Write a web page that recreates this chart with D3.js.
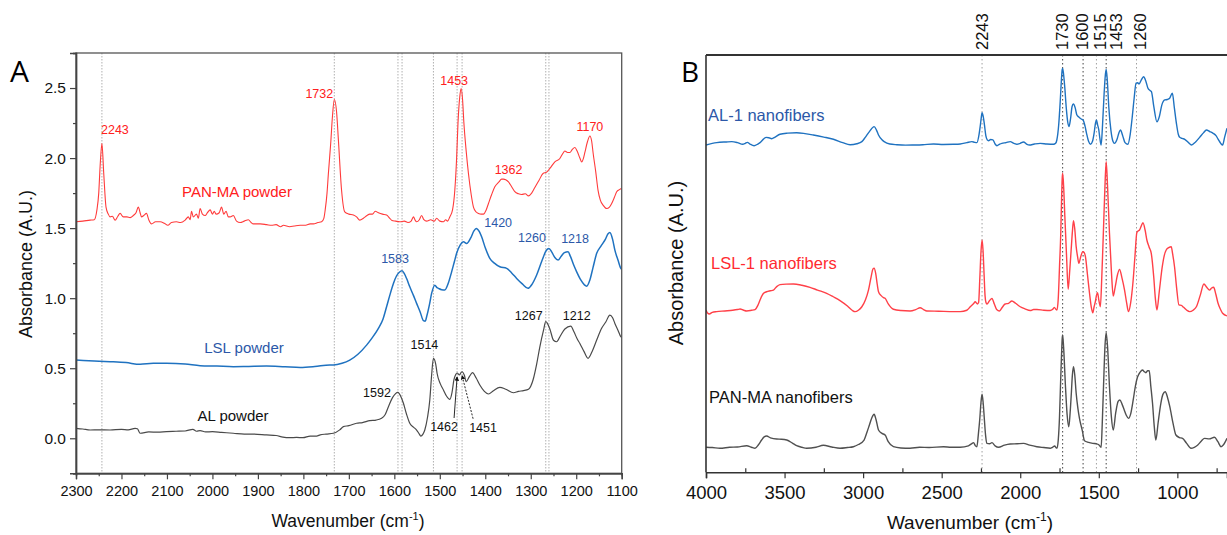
<!DOCTYPE html>
<html>
<head>
<meta charset="utf-8">
<script src="https://cdn.jsdelivr.net/npm/d3@7"></script>
<style>
  html, body { margin: 0; padding: 0; background: #fff; }
  svg { display: block; font-family: "Liberation Sans", Arial, sans-serif; }
</style>
</head>
<body>
<svg id="chart" width="1227" height="535"></svg>
<script>
// ---------- Panel A: powders, 2300–1100 cm-1 ([wavenumber, absorbance]) ----------
const panMaPowder = [[2300,1.545],[2285,1.55],[2269,1.557],[2260,1.56],[2254,1.63],[2250,1.75],[2247,1.94],[2243,2.104],[2239,1.89],[2234,1.65],[2229,1.6],[2225,1.58],[2220,1.585],[2214,1.557],[2208,1.585],[2203,1.605],[2196,1.58],[2188,1.58],[2181,1.575],[2174,1.59],[2168,1.61],[2163,1.65],[2159,1.61],[2156,1.58],[2151,1.59],[2145,1.605],[2140,1.56],[2134,1.53],[2125,1.545],[2115,1.545],[2106,1.535],[2098,1.52],[2090,1.54],[2079,1.545],[2070,1.54],[2060,1.557],[2053,1.58],[2049,1.56],[2046,1.62],[2042,1.58],[2035,1.6],[2031,1.57],[2027,1.64],[2022,1.6],[2016,1.59],[2011,1.61],[2005,1.63],[2000,1.6],[1996,1.62],[1992,1.6],[1985,1.61],[1980,1.65],[1975,1.6],[1970,1.62],[1965,1.58],[1961,1.58],[1954,1.59],[1947,1.55],[1939,1.54],[1930,1.55],[1921,1.56],[1915,1.54],[1910,1.53],[1895,1.53],[1881,1.525],[1870,1.52],[1860,1.525],[1850,1.51],[1844,1.52],[1830,1.51],[1820,1.515],[1807,1.52],[1795,1.52],[1785,1.53],[1778,1.53],[1768,1.54],[1760,1.545],[1755,1.57],[1752,1.63],[1748,1.75],[1745,1.89],[1740,2.1],[1736,2.3],[1732,2.418],[1727,2.33],[1723,2.13],[1716,1.77],[1709,1.616],[1700,1.6],[1690,1.593],[1683,1.58],[1676,1.557],[1668,1.57],[1660,1.59],[1654,1.6],[1648,1.6],[1642,1.62],[1635,1.61],[1626,1.6],[1617,1.593],[1610,1.57],[1606,1.557],[1597,1.55],[1588,1.545],[1578,1.55],[1570,1.54],[1563,1.55],[1558,1.58],[1554,1.555],[1551,1.545],[1545,1.56],[1540,1.59],[1535,1.56],[1529,1.55],[1520,1.56],[1512,1.55],[1507,1.57],[1500,1.55],[1492,1.545],[1487,1.56],[1483,1.55],[1478,1.58],[1472,1.63],[1467,1.77],[1463,2.0],[1460,2.25],[1456,2.44],[1453,2.496],[1450,2.42],[1447,2.25],[1442,2.05],[1437,1.89],[1431,1.74],[1426,1.65],[1420,1.615],[1415,1.605],[1409,1.6],[1404,1.6],[1398,1.63],[1393,1.676],[1386,1.74],[1379,1.795],[1370,1.83],[1364,1.85],[1360,1.85],[1355,1.845],[1349,1.83],[1342,1.795],[1335,1.76],[1327,1.745],[1320,1.74],[1312,1.745],[1305,1.73],[1298,1.75],[1291,1.79],[1282,1.84],[1273,1.89],[1265,1.9],[1258,1.926],[1247,1.973],[1236,1.997],[1230,2.03],[1225,2.05],[1219,2.04],[1214,2.04],[1209,2.06],[1203,2.075],[1198,2.05],[1192,2.0],[1188,1.973],[1184,2.0],[1181,2.04],[1175,2.12],[1170,2.158],[1166,2.12],[1163,2.04],[1157,1.9],[1152,1.77],[1147,1.7],[1141,1.664],[1133,1.64],[1127,1.65],[1122,1.676],[1116,1.72],[1111,1.76],[1105,1.775],[1100,1.783]];

const lslPowder = [[2300,0.558],[2260,0.552],[2225,0.547],[2190,0.54],[2159,0.528],[2130,0.535],[2101,0.535],[2060,0.53],[2027,0.518],[1990,0.515],[1954,0.511],[1920,0.513],[1881,0.515],[1840,0.51],[1807,0.506],[1775,0.512],[1742,0.523],[1734,0.523],[1715,0.535],[1698,0.558],[1680,0.6],[1661,0.665],[1648,0.72],[1635,0.785],[1625,0.85],[1617,0.939],[1610,1.02],[1602,1.105],[1595,1.16],[1589,1.185],[1583,1.195],[1578,1.175],[1573,1.14],[1566,1.081],[1558,1.02],[1551,0.963],[1543,0.9],[1536,0.839],[1532,0.835],[1529,0.867],[1523,0.95],[1518,1.034],[1511,1.093],[1506,1.075],[1503,1.07],[1496,1.06],[1489,1.058],[1481,1.11],[1474,1.188],[1468,1.26],[1463,1.32],[1455,1.38],[1448,1.402],[1441,1.39],[1432,1.43],[1425,1.48],[1420,1.498],[1413,1.475],[1408,1.438],[1400,1.36],[1390,1.284],[1380,1.25],[1368,1.224],[1353,1.213],[1342,1.18],[1331,1.141],[1318,1.1],[1306,1.07],[1297,1.1],[1287,1.165],[1275,1.27],[1266,1.34],[1260,1.355],[1254,1.33],[1247,1.29],[1240,1.272],[1233,1.3],[1226,1.325],[1218,1.331],[1213,1.3],[1206,1.24],[1199,1.188],[1190,1.13],[1182,1.095],[1177,1.086],[1170,1.13],[1163,1.22],[1155,1.32],[1146,1.37],[1136,1.42],[1130,1.46],[1126,1.469],[1120,1.42],[1115,1.343],[1108,1.27],[1102,1.213],[1100,1.205]];

const alPowder = [[2300,0.071],[2285,0.066],[2269,0.059],[2250,0.06],[2225,0.059],[2200,0.064],[2185,0.06],[2170,0.071],[2165,0.068],[2159,0.036],[2140,0.045],[2120,0.044],[2101,0.048],[2080,0.05],[2060,0.052],[2043,0.064],[2035,0.05],[2027,0.055],[2015,0.045],[2000,0.047],[1980,0.042],[1954,0.036],[1930,0.03],[1910,0.03],[1881,0.024],[1860,0.02],[1845,0.008],[1830,0.004],[1815,0.006],[1801,0.004],[1785,0.016],[1771,0.016],[1763,0.024],[1750,0.03],[1734,0.036],[1720,0.06],[1712,0.083],[1700,0.09],[1683,0.107],[1670,0.112],[1654,0.126],[1640,0.13],[1628,0.143],[1620,0.17],[1613,0.225],[1604,0.29],[1592,0.328],[1586,0.3],[1580,0.25],[1573,0.17],[1566,0.107],[1558,0.08],[1551,0.059],[1545,0.03],[1542,0.016],[1537,0.03],[1533,0.059],[1527,0.15],[1522,0.273],[1518,0.45],[1514,0.571],[1509,0.53],[1506,0.464],[1499,0.39],[1492,0.345],[1485,0.3],[1478,0.278],[1473,0.33],[1469,0.416],[1465,0.455],[1462,0.466],[1457,0.452],[1453,0.47],[1451,0.475],[1446,0.45],[1442,0.404],[1435,0.44],[1428,0.468],[1420,0.43],[1412,0.38],[1402,0.335],[1393,0.316],[1382,0.34],[1368,0.364],[1355,0.35],[1338,0.325],[1327,0.335],[1316,0.34],[1305,0.35],[1295,0.416],[1287,0.53],[1280,0.653],[1272,0.77],[1267,0.832],[1258,0.78],[1250,0.7],[1243,0.689],[1235,0.73],[1225,0.78],[1212,0.801],[1205,0.76],[1198,0.71],[1192,0.677],[1183,0.62],[1174,0.571],[1165,0.62],[1155,0.701],[1145,0.78],[1135,0.83],[1126,0.879],[1120,0.86],[1115,0.82],[1108,0.77],[1102,0.725],[1100,0.72]];

// peak assignments written next to each powder spectrum
const panMaPeaks = [2243, 1732, 1453, 1362, 1170];
const lslPeaks = [1583, 1420, 1260, 1218];
const alPeaks = [1592, 1514, 1462, 1451, 1267, 1212];
// dotted guide lines in panel A
const guideLinesA = [2243, 1732, 1592, 1583, 1514, 1462, 1451, 1267, 1260];

const yTicksA = [0, 0.5, 1.0, 1.5, 2.0, 2.5];
const yMinorA = [-0.25, 0.25, 0.75, 1.25, 1.75, 2.25, 2.75];
const xTicksA = [2300, 2200, 2100, 2000, 1900, 1800, 1700, 1600, 1500, 1400, 1300, 1200, 1100];
const xMinorA = [2250, 2150, 2050, 1950, 1850, 1750, 1650, 1550, 1450, 1350, 1250, 1150];

// ---------- Panel B: nanofibers, 4000–680 cm-1 (offset absorbance) ----------
const al1Nanofibers = [[4000,2.353],[3932,2.37],[3870,2.375],[3836,2.377],[3800,2.37],[3766,2.358],[3750,2.365],[3737,2.372],[3720,2.36],[3694,2.348],[3670,2.36],[3656,2.37],[3618,2.408],[3600,2.405],[3582,2.398],[3560,2.41],[3529,2.43],[3480,2.438],[3423,2.441],[3370,2.435],[3317,2.425],[3250,2.41],[3189,2.394],[3130,2.37],[3083,2.355],[3040,2.362],[3008,2.377],[2985,2.41],[2960,2.449],[2930,2.485],[2915,2.46],[2902,2.425],[2880,2.39],[2866,2.377],[2830,2.36],[2785,2.355],[2730,2.352],[2679,2.353],[2620,2.355],[2552,2.36],[2490,2.357],[2425,2.358],[2382,2.36],[2340,2.37],[2308,2.377],[2290,2.372],[2276,2.37],[2262,2.43],[2255,2.485],[2248,2.55],[2243,2.585],[2236,2.56],[2228,2.5],[2219,2.42],[2210,2.39],[2202,2.384],[2188,2.392],[2174,2.39],[2160,2.36],[2148,2.348],[2130,2.36],[2117,2.365],[2090,2.37],[2064,2.377],[2040,2.365],[2021,2.358],[2000,2.365],[1979,2.375],[1960,2.36],[1941,2.353],[1910,2.36],[1873,2.365],[1830,2.36],[1788,2.358],[1775,2.365],[1767,2.389],[1755,2.5],[1745,2.676],[1738,2.82],[1733,2.895],[1730,2.904],[1724,2.86],[1716,2.76],[1707,2.62],[1698,2.52],[1690,2.485],[1680,2.54],[1670,2.63],[1662,2.648],[1650,2.62],[1640,2.57],[1629,2.556],[1612,2.54],[1600,2.533],[1588,2.49],[1578,2.437],[1565,2.38],[1553,2.358],[1540,2.38],[1530,2.437],[1521,2.51],[1515,2.533],[1508,2.5],[1500,2.461],[1493,2.4],[1485,2.353],[1476,2.5],[1466,2.725],[1458,2.86],[1453,2.897],[1446,2.82],[1436,2.62],[1423,2.46],[1410,2.38],[1400,2.365],[1385,2.39],[1372,2.44],[1362,2.461],[1348,2.42],[1333,2.37],[1315,2.358],[1300,2.43],[1287,2.556],[1274,2.7],[1263,2.797],[1252,2.8],[1244,2.792],[1230,2.82],[1215,2.844],[1200,2.81],[1187,2.761],[1174,2.745],[1165,2.737],[1150,2.63],[1130,2.52],[1114,2.56],[1099,2.64],[1080,2.677],[1064,2.68],[1049,2.689],[1032,2.725],[1019,2.62],[1006,2.509],[994,2.43],[985,2.408],[969,2.4],[953,2.394],[929,2.37],[910,2.353],[884,2.375],[858,2.408],[834,2.44],[815,2.461],[794,2.45],[772,2.437],[754,2.42],[740,2.394],[724,2.365],[712,2.353],[699,2.41],[684,2.473]];

const lsl1Nanofibers = [[4000,1.167],[3990,1.145],[3979,1.138],[3960,1.15],[3932,1.155],[3880,1.16],[3830,1.165],[3800,1.17],[3783,1.174],[3760,1.165],[3741,1.16],[3710,1.165],[3688,1.17],[3670,1.2],[3656,1.239],[3635,1.285],[3614,1.298],[3590,1.305],[3571,1.31],[3550,1.335],[3529,1.349],[3490,1.353],[3444,1.354],[3390,1.345],[3338,1.33],[3290,1.31],[3232,1.287],[3190,1.262],[3147,1.234],[3100,1.195],[3070,1.165],[3051,1.155],[3030,1.165],[3008,1.19],[2985,1.24],[2966,1.31],[2950,1.4],[2937,1.462],[2930,1.467],[2920,1.43],[2910,1.35],[2902,1.298],[2885,1.27],[2870,1.255],[2860,1.251],[2840,1.21],[2807,1.172],[2760,1.163],[2701,1.16],[2665,1.17],[2637,1.183],[2615,1.17],[2595,1.16],[2520,1.158],[2425,1.155],[2382,1.155],[2340,1.165],[2318,1.19],[2295,1.215],[2287,1.226],[2272,1.21],[2265,1.22],[2257,1.4],[2250,1.58],[2243,1.67],[2237,1.6],[2230,1.42],[2224,1.27],[2218,1.22],[2212,1.21],[2195,1.235],[2180,1.25],[2165,1.21],[2150,1.17],[2132,1.16],[2115,1.185],[2096,1.21],[2075,1.215],[2053,1.232],[2030,1.215],[2000,1.19],[1970,1.175],[1936,1.163],[1915,1.17],[1894,1.17],[1850,1.165],[1809,1.163],[1795,1.17],[1783,1.186],[1772,1.17],[1766,1.167],[1758,1.25],[1750,1.478],[1742,1.72],[1737,1.958],[1733,2.11],[1730,2.15],[1724,2.06],[1716,1.838],[1705,1.55],[1695,1.316],[1685,1.45],[1676,1.598],[1668,1.73],[1661,1.809],[1653,1.75],[1644,1.622],[1635,1.55],[1627,1.502],[1615,1.55],[1602,1.586],[1593,1.58],[1585,1.55],[1572,1.42],[1559,1.287],[1548,1.19],[1538,1.147],[1530,1.19],[1522,1.226],[1515,1.27],[1508,1.291],[1500,1.24],[1490,1.19],[1481,1.4],[1471,1.718],[1461,2.05],[1453,2.233],[1444,2.05],[1432,1.718],[1420,1.45],[1408,1.267],[1396,1.33],[1381,1.42],[1368,1.459],[1353,1.4],[1336,1.31],[1323,1.22],[1311,1.155],[1297,1.22],[1283,1.359],[1270,1.55],[1258,1.723],[1250,1.735],[1241,1.742],[1230,1.77],[1219,1.794],[1205,1.74],[1194,1.67],[1180,1.62],[1166,1.574],[1150,1.4],[1140,1.25],[1130,1.167],[1115,1.3],[1096,1.478],[1083,1.56],[1071,1.598],[1055,1.615],[1039,1.622],[1030,1.57],[1018,1.478],[1005,1.33],[990,1.203],[975,1.2],[960,1.186],[940,1.165],[922,1.155],[900,1.165],[879,1.19],[855,1.27],[831,1.354],[813,1.33],[795,1.31],[782,1.325],[769,1.33],[755,1.28],[741,1.215],[725,1.17],[712,1.143],[684,1.124]];

const panMaNanofibers = [[4000,0.18],[3960,0.178],[3911,0.173],[3850,0.18],[3800,0.182],[3741,0.191],[3710,0.18],[3688,0.173],[3665,0.2],[3646,0.232],[3630,0.255],[3614,0.261],[3590,0.248],[3550,0.239],[3520,0.238],[3486,0.232],[3450,0.21],[3423,0.191],[3390,0.18],[3359,0.173],[3300,0.18],[3253,0.194],[3200,0.182],[3147,0.173],[3100,0.178],[3062,0.184],[3030,0.2],[2994,0.232],[2975,0.29],[2960,0.34],[2945,0.39],[2930,0.417],[2918,0.38],[2902,0.304],[2880,0.28],[2860,0.268],[2840,0.22],[2807,0.184],[2760,0.175],[2701,0.173],[2640,0.18],[2580,0.178],[2488,0.184],[2440,0.18],[2382,0.18],[2330,0.19],[2310,0.205],[2297,0.213],[2285,0.19],[2276,0.184],[2266,0.28],[2258,0.376],[2250,0.5],[2243,0.561],[2236,0.5],[2228,0.376],[2220,0.26],[2212,0.208],[2195,0.205],[2180,0.213],[2160,0.19],[2138,0.18],[2100,0.195],[2064,0.203],[2020,0.205],[1979,0.208],[1940,0.195],[1894,0.184],[1850,0.178],[1809,0.173],[1795,0.18],[1781,0.189],[1770,0.175],[1766,0.173],[1758,0.232],[1750,0.4],[1744,0.615],[1737,0.85],[1733,0.96],[1730,0.987],[1724,0.9],[1712,0.615],[1702,0.42],[1691,0.328],[1683,0.42],[1676,0.543],[1668,0.7],[1661,0.759],[1653,0.7],[1644,0.568],[1633,0.46],[1623,0.388],[1605,0.3],[1591,0.227],[1565,0.215],[1538,0.208],[1515,0.205],[1500,0.198],[1491,0.185],[1485,0.18],[1478,0.35],[1470,0.615],[1460,0.92],[1453,1.004],[1444,0.9],[1432,0.615],[1420,0.4],[1408,0.304],[1392,0.43],[1377,0.51],[1366,0.52],[1352,0.49],[1338,0.448],[1325,0.41],[1311,0.388],[1297,0.42],[1281,0.52],[1267,0.62],[1254,0.683],[1237,0.72],[1221,0.735],[1212,0.725],[1200,0.716],[1189,0.73],[1179,0.73],[1169,0.62],[1158,0.496],[1147,0.33],[1137,0.232],[1122,0.36],[1105,0.496],[1092,0.56],[1077,0.579],[1063,0.54],[1048,0.472],[1027,0.35],[1009,0.268],[987,0.25],[967,0.244],[942,0.21],[913,0.173],[892,0.18],[870,0.196],[847,0.225],[827,0.244],[797,0.24],[764,0.252],[742,0.22],[722,0.184],[705,0.2],[684,0.244]];

// characteristic bands marked across panel B
const bandsB = [2243, 1730, 1600, 1515, 1453, 1260];
const xTicksB = [4000, 3500, 3000, 2500, 2000, 1500, 1000];
const xMinorB = [3750, 3250, 2750, 2250, 1750, 1250, 750];

// ---------- layout ----------
const svg = d3.select("#chart");

const colRed = "#ff3b3b", colBlue = "#1f72c0", colGrey = "#4a4a4a";
const txtRed = "#ff2020", txtBlue = "#2c58a8", txtBlack = "#111";

const xA = d3.scaleLinear().domain([2300, 1100]).range([76, 621.7]);
const yA = d3.scaleLinear().domain([-0.25, 2.75]).range([473.3, 53]);

const xB = d3.scaleLinear().domain([4000, 684]).range([706, 1227]);
const yB = d3.scaleLinear().domain([0, 3]).range([472.3, 55]);

// linear lookup of a spectrum's value at a wavenumber
function valueAt(series, w) {
  for (let i = 0; i < series.length - 1; i++) {
    const [w0, a0] = series[i], [w1, a1] = series[i + 1];
    if ((w <= w0 && w >= w1)) {
      const t = (w0 - w) / (w0 - w1);
      return a0 + t * (a1 - a0);
    }
  }
  return series[series.length - 1][1];
}

// ================= PANEL A =================
const gA = svg.append("g");

// dotted reference lines
gA.selectAll("line.guide").data(guideLinesA).join("line")
  .attr("x1", d => xA(d)).attr("x2", d => xA(d))
  .attr("y1", yA.range()[1]).attr("y2", yA.range()[0])
  .attr("stroke", "#b0b0b0").attr("stroke-width", 1)
  .attr("stroke-dasharray", "1.5,1.5");

const lineA = d3.line().x(d => xA(d[0])).y(d => yA(d[1])).curve(d3.curveMonotoneX);

[[panMaPowder, colRed, 1.1], [lslPowder, colBlue, 1.5], [alPowder, colGrey, 1.2]].forEach(([s, c, w]) => {
  gA.append("path").datum(s).attr("d", lineA)
    .attr("fill", "none").attr("stroke", c).attr("stroke-width", w)
    .attr("stroke-linejoin", "round");
});

// frame
gA.append("rect")
  .attr("x", xA.range()[0]).attr("y", yA.range()[1])
  .attr("width", xA.range()[1] - xA.range()[0])
  .attr("height", yA.range()[0] - yA.range()[1])
  .attr("fill", "none").attr("stroke", "#555").attr("stroke-width", 1.3);

// axes
gA.append("g").attr("transform", `translate(${xA.range()[0]},0)`)
  .call(d3.axisLeft(yA).tickValues(yTicksA).tickFormat(d3.format(".1f")).tickSize(6).tickPadding(4));
gA.append("g").attr("transform", `translate(${xA.range()[0]},0)`)
  .call(d3.axisLeft(yA).tickValues(yMinorA).tickFormat("").tickSize(3));
gA.append("g").attr("transform", `translate(0,${yA.range()[0]})`)
  .call(d3.axisBottom(xA).tickValues(xTicksA).tickFormat(d3.format("d")).tickSize(6).tickPadding(6));
gA.append("g").attr("transform", `translate(0,${yA.range()[0]})`)
  .call(d3.axisBottom(xA).tickValues(xMinorA).tickFormat("").tickSize(3));

gA.selectAll(".domain").attr("stroke", "#444").attr("stroke-width", 1.4);
gA.selectAll(".tick line").attr("stroke", "#444").attr("stroke-width", 1.2);
gA.selectAll(".tick text").attr("font-family", "Liberation Sans, Arial, sans-serif")
  .attr("font-size", 14.5).attr("fill", "#111");
gA.selectAll(".tick text").filter(function () { return this.textContent.includes("."); })
  .attr("font-size", 15.5);

// axis titles
gA.append("text").attr("transform", "translate(32,264) rotate(-90)")
  .attr("text-anchor", "middle").attr("font-size", 18).attr("fill", "#111")
  .text("Absorbance (A.U.)");
const tA = gA.append("text").attr("x", 348).attr("y", 527)
  .attr("text-anchor", "middle").attr("font-size", 17.5).attr("fill", "#111");
tA.append("tspan").text("Wavenumber (cm");
tA.append("tspan").attr("dy", -7).attr("font-size", 11).text("-1");
tA.append("tspan").attr("dy", 7).text(")");

// panel letter
svg.append("text").attr("x", 10).attr("y", 82).attr("font-family", "Open Sans, sans-serif")
  .attr("font-size", 30).attr("fill", "#000").text("A");

// spectrum names
gA.append("text").attr("x", 237).attr("y", 197).attr("text-anchor", "middle")
  .attr("font-size", 15).attr("fill", txtRed).text("PAN-MA powder");
gA.append("text").attr("x", 244).attr("y", 353).attr("text-anchor", "middle")
  .attr("font-size", 15).attr("fill", txtBlue).text("LSL powder");
gA.append("text").attr("x", 233).attr("y", 420.5).attr("text-anchor", "middle")
  .attr("font-size", 15).attr("fill", txtBlack).text("AL powder");

// peak labels: offsets (px) from the spectrum point at each peak
const nudgeRed = [[13, -10], [-15, -1.5], [-7, -3.5], [6, -5], [0, -5]];
const nudgeBlue = [[-7, -8], [22, -1.5], [-17, -6], [7, -9]];
const nudgeBlack = [[-21, 5], [-9, -9], [-13, 58], [21, 60], [-17, -2], [6, -6.5]];

function peakLabels(series, peaks, nudges, color) {
  gA.append("g").selectAll("text").data(peaks).join("text")
    .attr("x", (d, i) => xA(d) + nudges[i][0])
    .attr("y", (d, i) => yA(valueAt(series, d)) + nudges[i][1])
    .attr("text-anchor", "middle").attr("font-size", 12.5).attr("fill", color)
    .text(d => d);
}
peakLabels(panMaPowder, panMaPeaks, nudgeRed, txtRed);
peakLabels(lslPowder, lslPeaks, nudgeBlue, txtBlue);
peakLabels(alPowder, alPeaks, nudgeBlack, txtBlack);

// leader lines for the 1462 / 1451 shoulder pair
const defs = svg.append("defs");
defs.append("marker").attr("id", "arrow").attr("viewBox", "0 0 6 6")
  .attr("refX", 5).attr("refY", 3).attr("markerWidth", 5).attr("markerHeight", 5)
  .attr("orient", "auto")
  .append("path").attr("d", "M0,0 L6,3 L0,6 Z").attr("fill", "#111");

const leaders = [[1462, -3, null], [1451, 11, "2,1.5"]];
leaders.forEach(([w, sdx, dash]) => {
  const i = alPeaks.indexOf(w);
  const ly = yA(valueAt(alPowder, w)) + nudgeBlack[i][1] - 13;
  gA.append("line")
    .attr("x1", xA(w) + sdx).attr("y1", ly)
    .attr("x2", xA(w)).attr("y2", yA(valueAt(alPowder, w)) + 4)
    .attr("stroke", "#111").attr("stroke-width", 0.9)
    .attr("stroke-dasharray", dash)
    .attr("marker-end", "url(#arrow)");
});

// ================= PANEL B =================
const gB = svg.append("g");

defs.append("clipPath").attr("id", "clipB").append("rect")
  .attr("x", xB.range()[0]).attr("y", yB.range()[1])
  .attr("width", xB.range()[1] - xB.range()[0])
  .attr("height", yB.range()[0] - yB.range()[1]);

const darkBands = new Set([1730, 1600, 1453]);
gB.selectAll("line.band").data(bandsB).join("line")
  .attr("x1", d => xB(d)).attr("x2", d => xB(d))
  .attr("y1", yB.range()[1]).attr("y2", yB.range()[0])
  .attr("stroke", d => darkBands.has(d) ? "#444" : "#a0a0a0")
  .attr("stroke-width", 1).attr("stroke-dasharray", "1.5,2.5");

const lineB = d3.line().x(d => xB(d[0])).y(d => yB(d[1])).curve(d3.curveMonotoneX);
const gCurves = gB.append("g").attr("clip-path", "url(#clipB)");
[[al1Nanofibers, colBlue], [lsl1Nanofibers, "#ff4048"], [panMaNanofibers, "#505050"]].forEach(([s, c]) => {
  gCurves.append("path").datum(s).attr("d", lineB)
    .attr("fill", "none").attr("stroke", c).attr("stroke-width", 1.4)
    .attr("stroke-linejoin", "round");
});

// frame: left, top, bottom
const [bx0, bx1] = xB.range(), [by1, by0] = yB.range();
gB.append("line").attr("x1", bx0).attr("x2", bx1).attr("y1", by0).attr("y2", by0)
  .attr("stroke", "#333").attr("stroke-width", 2);
gB.append("line").attr("x1", bx0).attr("x2", bx0).attr("y1", by0).attr("y2", by1)
  .attr("stroke", "#333").attr("stroke-width", 1.6);

gB.append("g").attr("transform", `translate(0,${by1})`)
  .call(d3.axisBottom(xB).tickValues(xTicksB).tickFormat(d3.format("d")).tickSize(6).tickPadding(8))
  .call(g => g.select(".domain").attr("stroke", "#333").attr("stroke-width", 1.6));
gB.append("g").attr("transform", `translate(0,${by1})`)
  .call(d3.axisBottom(xB).tickValues(xMinorB).tickFormat("").tickSize(-4))
  .call(g => g.select(".domain").remove());
gB.selectAll(".tick line").attr("stroke", "#333").attr("stroke-width", 1.2);
gB.selectAll(".tick text").attr("font-family", "Liberation Sans, Arial, sans-serif")
  .attr("font-size", 18.5).attr("fill", "#111");

// band labels above the frame (nudged apart where crowded)
const bandNudge = [0, 0, -1, 4, 10, 4];
gB.selectAll("text.band").data(bandsB).join("text")
  .attr("transform", (d, i) => `translate(${xB(d) + bandNudge[i]},50) rotate(-90)`)
  .attr("dy", "0.35em").attr("text-anchor", "start")
  .attr("font-size", 16.5).attr("fill", "#111").text(d => d);

gB.append("text").attr("transform", "translate(683,263) rotate(-90)")
  .attr("text-anchor", "middle").attr("font-size", 20).attr("fill", "#111")
  .text("Absorbance (A.U.)");
const tB = gB.append("text").attr("x", 970).attr("y", 529)
  .attr("text-anchor", "middle").attr("font-size", 19).attr("fill", "#111");
tB.append("tspan").text("Wavenumber (cm");
tB.append("tspan").attr("dy", -8).attr("font-size", 12).text("-1");
tB.append("tspan").attr("dy", 8).text(")");

svg.append("text").attr("x", 681).attr("y", 82).attr("font-family", "Open Sans, sans-serif")
  .attr("font-size", 28).attr("fill", "#000").text("B");

gB.append("text").attr("x", 708).attr("y", 120.5).attr("font-size", 16.5)
  .attr("fill", txtBlue).text("AL-1 nanofibers");
gB.append("text").attr("x", 711).attr("y", 269).attr("font-size", 16.5)
  .attr("fill", "#ff2a30").text("LSL-1 nanofibers");
gB.append("text").attr("x", 709).attr("y", 403).attr("font-size", 16.5)
  .attr("fill", txtBlack).text("PAN-MA nanofibers");
</script>
</body>
</html>
